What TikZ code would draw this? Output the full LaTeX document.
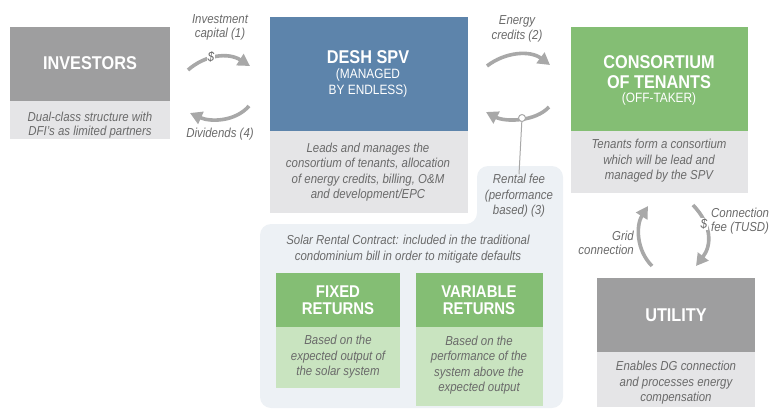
\documentclass[tikz,border=0pt]{standalone}
\usepackage{fontspec}
\setmainfont{Liberation Sans}[FakeStretch=0.88]
\usetikzlibrary{arrows.meta}
\definecolor{dgray}{HTML}{9E9E9F}
\definecolor{lgray}{HTML}{E5E5E7}
\definecolor{sblue}{HTML}{5D84AB}
\definecolor{sgreen}{HTML}{84BE74}
\definecolor{lgreen}{HTML}{C9E4C0}
\definecolor{panel}{HTML}{EDF1F5}
\definecolor{tgray}{HTML}{6A6A6A}
\definecolor{agray}{HTML}{A8A8A8}
\tikzset{
  boxshape/.style={draw=none, inner sep=0pt, anchor=north west},
  titletext/.style={text=white, font=\fontsize{18.5}{20}\selectfont\bfseries, align=center, inner sep=0pt},
  subtext/.style={text=white, font=\fontsize{13.5}{16}\selectfont, align=center, inner sep=0pt},
  desctext/.style={text=tgray, font=\fontsize{13}{15.5}\selectfont\itshape, align=center, inner sep=0pt},
  flow/.style={draw=agray, line width=3.6pt, -{Triangle[length=12pt,width=13pt]}},
}
\begin{document}
\begin{tikzpicture}[x=1pt,y=-1pt]
\useasboundingbox (0,0) rectangle (771,410);
% rental panel
\fill[panel, rounded corners=11pt] (260,408) -- (260,224) -- (477,224) -- (477,166) -- (563,166) -- (563,408) -- cycle;
% boxes
\node[boxshape, fill=dgray, minimum width=160pt, minimum height=74pt] (invtop) at (10,27) {};
\node[boxshape, fill=lgray, minimum width=160pt, minimum height=38pt] (invbot) at (10,101) {};
\node[boxshape, fill=sblue, minimum width=198pt, minimum height=114pt] (spvtop) at (270,17) {};
\node[boxshape, fill=lgray, minimum width=198pt, minimum height=82pt] (spvbot) at (270,131) {};
\node[boxshape, fill=sgreen, minimum width=177pt, minimum height=104pt] (contop) at (571,27) {};
\node[boxshape, fill=lgray, minimum width=177pt, minimum height=62pt] (conbot) at (571,131) {};
\node[boxshape, fill=dgray, minimum width=158pt, minimum height=74pt] (utitop) at (597,278) {};
\node[boxshape, fill=lgray, minimum width=158pt, minimum height=55pt] (utibot) at (597,352) {};
\node[boxshape, fill=sgreen, minimum width=124pt, minimum height=54pt] (fixtop) at (276,273) {};
\node[boxshape, fill=lgreen, minimum width=124pt, minimum height=61pt] (fixbot) at (276,327) {};
\node[boxshape, fill=sgreen, minimum width=127pt, minimum height=54pt] (vartop) at (416,273) {};
\node[boxshape, fill=lgreen, minimum width=127pt, minimum height=79pt] (varbot) at (416,327) {};
% texts
\node[titletext] (invt) at (90,63) {INVESTORS};
\node[desctext, font=\fontsize{13}{14.5}\selectfont\itshape] (invd) at (90,125) {Dual-class structure with\\DFI's as limited partners};
\node[titletext] (spvt) at (368,57) {DESH SPV};
\node[subtext] (spvs) at (368,83) {(MANAGED\\BY ENDLESS)};
\node[desctext] (spvd) at (368,172) {Leads and manages the\\consortium of tenants, allocation\\of energy credits, billing, O\&M\\and development/EPC};
\node[titletext] (cont) at (659,72) {CONSORTIUM\\OF TENANTS};
\node[subtext] (cons) at (659,99) {(OFF-TAKER)};
\node[desctext] (cond) at (659,161) {Tenants form a consortium\\which will be lead and\\managed by the SPV};
\node[titletext] (utit) at (676,315) {UTILITY};
\node[desctext] (utid) at (676,383) {Enables DG connection\\and processes energy\\compensation};
\node[titletext, font=\fontsize{17}{16.5}\selectfont\bfseries] (fixt) at (338,300) {FIXED\\RETURNS};
\node[desctext] (fixd) at (338,357) {Based on the\\expected output of\\the solar system};
\node[titletext, font=\fontsize{17}{16.5}\selectfont\bfseries] (vart) at (479,300) {VARIABLE\\RETURNS};
\node[desctext] (vard) at (479,365) {Based on the\\performance of the\\system above the\\expected output};
\node[desctext] (solar) at (408,249) {Solar Rental Contract: included in the traditional\\condominium bill in order to mitigate defaults};
\node[desctext] (rent) at (519,196) {Rental fee\\(performance\\based) (3)};
\node[desctext, font=\fontsize{13}{14}\selectfont\itshape] (invlab) at (220,27) {Investment\\capital (1)};
\node[desctext] (divlab) at (220,134) {Dividends (4)};
\node[desctext, font=\fontsize{13}{15}\selectfont\itshape] (enlab) at (517,29) {Energy\\credits (2)};
\node[desctext, align=right, anchor=east, font=\fontsize{13}{13.5}\selectfont\itshape] (gridlab) at (634,243) {Grid\\connection};
\node[desctext, align=left, anchor=west, font=\fontsize{13}{14}\selectfont\itshape] (feelab) at (711,221) {Connection\\fee (TUSD)};
% arrows
\coordinate (i1) at (188,70);
\coordinate (i2) at (250,66);
\draw[flow] (i1) .. controls (205,55) and (228,52) .. (i2);
\node[fill=white, inner sep=0.5pt, text=tgray, font=\fontsize{13.5}{13}\selectfont\itshape] (dollar1) at (211,57) {\$};
\coordinate (d1) at (249,106);
\coordinate (d2) at (190,113);
\draw[flow] (d1) .. controls (235,122) and (210,122) .. (d2);
\coordinate (e1) at (487,66);
\coordinate (e2) at (550,65);
\draw[flow] (e1) .. controls (505,52) and (530,50) .. (e2);
\coordinate (r1) at (549,107);
\coordinate (r2) at (486,112);
\draw[flow] (r1) .. controls (535,122) and (505,122) .. (r2);
\node[circle, draw=agray, fill=white, line width=1pt, inner sep=0pt, minimum size=7pt] (rc) at (522,118) {};
\draw[agray, line width=1pt] (rc) -- (rent.north);
\coordinate (g1) at (652,266);
\coordinate (g2) at (648,206);
\draw[flow] (g1) .. controls (636,250) and (636,225) .. (g2);
\coordinate (c1) at (693,205);
\coordinate (c2) at (696,266);
\draw[flow] (c1) .. controls (712,225) and (712,245) .. (c2);
\node[fill=white, inner sep=0.5pt, text=tgray, font=\fontsize{13.5}{13}\selectfont\itshape] (dollar2) at (704,224) {\$};
\end{tikzpicture}
\end{document}
